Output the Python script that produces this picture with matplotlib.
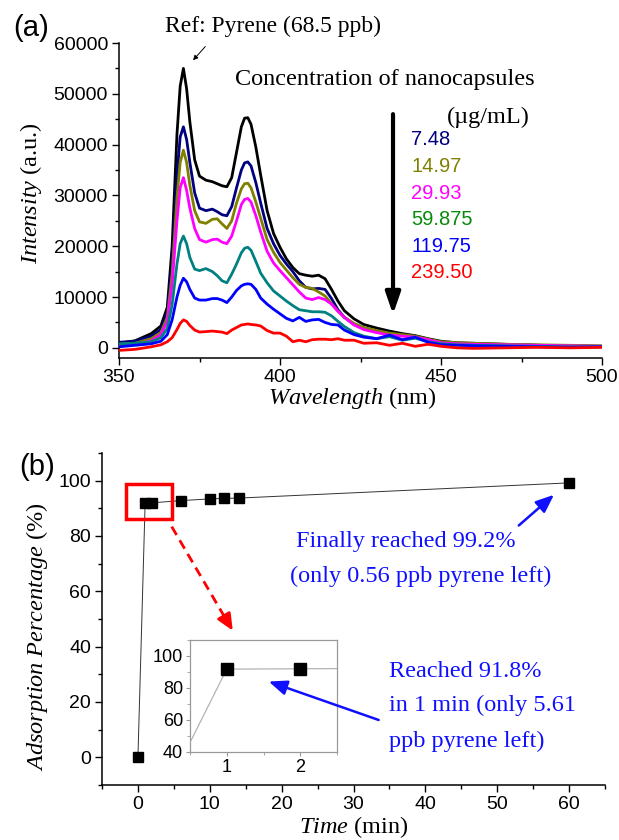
"""
Pyrene fluorescence quenching by nanocapsules (a) and adsorption kinetics (b).
Values read off the published figure.
"""

import matplotlib
matplotlib.use("Agg")
import matplotlib.pyplot as plt  # noqa: E402
from matplotlib.patches import Rectangle  # noqa: E402
from matplotlib.ticker import MultipleLocator  # noqa: E402

plt.rcParams["font.family"] = ["Liberation Sans", "DejaVu Sans"]
plt.rcParams["mathtext.fontset"] = "custom"
plt.rcParams["mathtext.rm"] = "Liberation Serif"
plt.rcParams["mathtext.it"] = "Liberation Serif:italic"

SERIF = ["Liberation Serif", "DejaVu Serif"]
BLUE = "#1010ff"

# --------------------------------------------------------------------------- #
# data, panel (a): emission spectra
# --------------------------------------------------------------------------- #
wavelength = [350, 355, 360, 363, 365, 366.5, 368, 369, 370, 371, 372, 373.5,
              375, 377, 379, 380.5, 382, 383.5, 385, 386.5, 388, 389, 390, 391,
              392.5, 394, 396, 398, 400, 402, 404, 406, 408, 410, 412, 414,
              416, 418, 420, 423, 426, 430, 434, 438, 442, 446, 450, 455, 460,
              470, 480, 490, 500]

i_ref = [900, 1400, 2800, 4300, 8000, 20000, 42000, 51500, 55000, 51000, 44500,
         37000, 33800, 33000, 32700, 32300, 31900, 31700, 33500, 38500, 43500,
         45200, 45300, 44000, 39500, 34000, 27000, 22500, 19800, 17500, 15800,
         14600, 14300, 14100, 14300, 13600, 11500, 9200, 7300, 5700, 4600, 3900,
         3300, 2800, 2400, 1800, 1300, 1000, 900, 700, 500, 400, 300]
i_748 = [1100, 1300, 2300, 3600, 7000, 17000, 34000, 41500, 43500, 41000, 36500,
         30500, 27500, 27000, 27300, 26800, 26200, 26000, 27800, 31500, 35000,
         36400, 36600, 35800, 32500, 28500, 23500, 20500, 18200, 16500, 15000,
         13200, 11900, 11600, 11700, 11500, 9700, 7500, 6000, 4600, 3900, 3300,
         2800, 2500, 2300, 1600, 1100, 900, 800, 600, 500, 300, 300]
i_1497 = [700, 900, 1800, 3000, 6000, 14500, 29500, 36500, 38900, 36500, 32000,
          27000, 24800, 24500, 25300, 25400, 24400, 23500, 25000, 28500, 31300,
          32300, 32400, 31500, 28700, 25500, 21300, 18800, 16800, 15300, 13800,
          12500, 11900, 11700, 11000, 10200, 8700, 7200, 6000, 4800, 4000, 3400,
          2900, 2600, 2300, 1700, 1200, 1000, 900, 700, 600, 500, 400]
i_2993 = [500, 700, 1400, 2600, 5200, 12500, 25000, 31500, 33500, 31000, 27500,
          23500, 21300, 20800, 21300, 21400, 20800, 20500, 22000, 25000, 28200,
          29200, 29400, 28700, 26000, 22800, 19000, 16700, 15200, 13800, 12400,
          11000, 9800, 9500, 9900, 9500, 8600, 7200, 6000, 4500, 3600, 3000,
          2500, 2300, 2100, 1600, 1000, 800, 700, 600, 500, 400, 300]
i_59875 = [800, 900, 1200, 2000, 3800, 8500, 16500, 20500, 22000, 20500, 17800,
           15500, 15200, 15600, 15000, 14200, 13200, 12800, 14500, 16500, 18700,
           19600, 19800, 19200, 17000, 14700, 12800, 11200, 10200, 9200, 8300,
           7500, 7300, 7100, 7100, 7000, 6300, 5200, 4200, 3000, 2300, 1800,
           2200, 1500, 1900, 1200, 800, 600, 500, 400, 300, 200, 200]
i_11975 = [200, 500, 800, 1300, 2600, 5500, 10000, 12300, 13700, 13000, 11500,
           9800, 9400, 9400, 9700, 9700, 9400, 8900, 10000, 11300, 12200, 12500,
           12600, 12500, 11500, 9800, 8600, 7600, 6700, 5800, 5300, 6000, 5200,
           5500, 5600, 5000, 4600, 4500, 3500, 2600, 2100, 1800, 2500, 1600,
           2100, 1100, 600, 500, 400, 300, 200, 100, 200]
i_2395 = [-500, -300, 200, 600, 1200, 2000, 3600, 4800, 5500, 5200, 4400, 3500,
          3100, 3200, 3300, 3200, 3100, 2800, 3500, 4000, 4500, 4600, 4700, 4600,
          4500, 4300, 3400, 2900, 2900, 2300, 1200, 1500, 1200, 1600, 1700, 1700,
          1600, 1800, 1500, 1500, 900, 1000, 500, 900, 300, 700, 300, 0, -100,
          0, 100, 0, 100]

conc_labels = ["7.48", "14.97", "29.93", "59.875", "119.75", "239.50"]
conc_colors = ["#000080", "#808000", "#ff00ff", "#0a8a0a", "#0000ff", "#ff0000"]
spectra = [i_748, i_1497, i_2993, i_59875, i_11975, i_2395]
line_colors = ["#000080", "#808000", "#ff00ff", "#008080", "#0000ff", "#ff0000"]

# --------------------------------------------------------------------------- #
# data, panel (b): adsorption vs time
# --------------------------------------------------------------------------- #
time_min = [0, 1, 2, 6, 10, 12, 14, 60]
adsorption = [0, 91.8, 92.0, 92.8, 93.4, 93.6, 93.7, 99.2]


def style_ax(ax):
    for s in ("top", "right"):
        ax.spines[s].set_visible(False)
    for s in ("left", "bottom"):
        ax.spines[s].set_linewidth(1.1)
    ax.tick_params(which="major", direction="out", length=5, width=1.0,
                   labelsize=14, pad=3)
    ax.tick_params(which="minor", direction="out", length=3, width=1.0)


W, H = 619, 840
fig = plt.figure(figsize=(W / 100, H / 100), dpi=100)


def fx(px):
    return px / W


def fy(py):
    return 1 - py / H


# ---- panel (a) ------------------------------------------------------------ #
ax_a = fig.add_axes([fx(119), fy(358), (602 - 119) / W, (358 - 43) / H])
ax_a.plot(wavelength, i_ref, color="black", lw=2.0, zorder=3)
for ys, c in zip(spectra, line_colors):
    ax_a.plot(wavelength, ys, color=c, lw=2.0, zorder=3)
ax_a.set_xlim(350, 500)
ax_a.set_ylim(-2000, 60000)
ax_a.xaxis.set_major_locator(MultipleLocator(50))
ax_a.xaxis.set_minor_locator(MultipleLocator(25))
ax_a.yaxis.set_major_locator(MultipleLocator(10000))
ax_a.yaxis.set_minor_locator(MultipleLocator(5000))
style_ax(ax_a)

ax_a.text(364.3, 63200, "Ref: Pyrene (68.5 ppb)", family=SERIF, fontsize=17,
          ha="left", va="center", clip_on=False)
ax_a.annotate("", xy=(373.0, 56600), xytext=(376.8, 59300),
              arrowprops=dict(arrowstyle="-|>", color="black", lw=0.7,
                              mutation_scale=7, shrinkA=0, shrinkB=0))
ax_a.text(386.0, 52800, "Concentration of nanocapsules", family=SERIF,
          fontsize=17.5, ha="left", va="center")
ax_a.text(451.7, 45400, "(\u00b5g/mL)", family=SERIF, fontsize=17.5,
          ha="left", va="center")
conc_y = [41070, 35760, 30460, 25170, 20010, 14760]
for lab, c, yy in zip(conc_labels, conc_colors, conc_y):
    ax_a.text(440.7, yy, lab, color=c, fontsize=14.5, ha="left", va="center")
ax_a.annotate("", xy=(435.1, 6600), xytext=(435.1, 46000),
              arrowprops=dict(arrowstyle="-|>,head_length=1.3,head_width=0.45",
                              color="black", lw=3, mutation_scale=10,
                              shrinkA=0, shrinkB=0))

fig.text(fx(31), fy(193), r"$\mathit{Intensity}$ (a.u.)", family=SERIF,
         rotation=90, fontsize=17.5, ha="center", va="center")
fig.text(fx(352), fy(398), r"$\mathit{Wavelength}$ (nm)", family=SERIF,
         fontsize=17.5, ha="center", va="center")
fig.text(fx(31), fy(28), "(a)", fontsize=21, ha="center", va="center")

# ---- panel (b) ------------------------------------------------------------ #
ax_b = fig.add_axes([fx(102), fy(785), (605 - 102) / W, (785 - 453) / H])
ax_b.plot(time_min, adsorption, color="#333333", lw=0.7, marker="s", ms=6.5,
          mfc="black", mec="black", zorder=3)
ax_b.set_xlim(-5, 65)
ax_b.set_ylim(-10, 110)
ax_b.xaxis.set_major_locator(MultipleLocator(10))
ax_b.xaxis.set_minor_locator(MultipleLocator(5))
ax_b.yaxis.set_major_locator(MultipleLocator(20))
ax_b.yaxis.set_minor_locator(MultipleLocator(10))
ax_b.set_yticks([0, 20, 40, 60, 80, 100])
style_ax(ax_b)

ax_b.add_patch(Rectangle((-1.6, 86.1), 6.3, 12.8, fill=False, ec="#ff0000",
                         lw=2.5, zorder=4, clip_on=False))
ax_b.plot([4.7, 12.0], [83.4, 51.0], color="#ff0000", lw=2, ls=(0, (3.5, 2.2)))
ax_b.annotate("", xy=(13.2, 45.8), xytext=(12.0, 51.0),
              arrowprops=dict(arrowstyle="-|>,head_length=1.0,head_width=0.45",
                              color="#ff0000", lw=2, mutation_scale=10,
                              shrinkA=0, shrinkB=0))
ax_b.annotate("", xy=(57.9, 94.9), xytext=(53.0, 83.8),
              arrowprops=dict(arrowstyle="-|>,head_length=1.1,head_width=0.45",
                              color=BLUE, lw=1.8, mutation_scale=10,
                              shrinkA=0, shrinkB=0))
ax_b.text(22.05, 78.0, "Finally reached 99.2%", family=SERIF, fontsize=17.5,
          color=BLUE, ha="left", va="center")
ax_b.text(21.2, 65.4, "(only 0.56 ppb pyrene left)", family=SERIF,
          fontsize=17.5, color=BLUE, ha="left", va="center")
ax_b.text(35.0, 31.0, "Reached 91.8%", family=SERIF, fontsize=17.5,
          color=BLUE, ha="left", va="center")
ax_b.text(35.0, 18.6, "in 1 min (only 5.61", family=SERIF, fontsize=17.5,
          color=BLUE, ha="left", va="center")
ax_b.text(35.0, 5.6, "ppb pyrene left)", family=SERIF, fontsize=17.5,
          color=BLUE, ha="left", va="center")

fig.text(fx(37), fy(637), r"$\mathit{Adsorption\ Percentage}$ (%)",
         family=SERIF, rotation=90, fontsize=17.5, ha="center", va="center")
fig.text(fx(354), fy(827), r"$\mathit{Time}$ (min)", family=SERIF,
         fontsize=17.5, ha="center", va="center")
fig.text(fx(37), fy(467), "(b)", fontsize=21, ha="center", va="center")

# ---- inset --------------------------------------------------------------- #
ax_in = fig.add_axes([fx(190), fy(752), (337 - 190) / W, (752 - 640) / H])
ax_in.plot(time_min, adsorption, color="#aaaaaa", lw=0.8, marker="s", ms=8.5,
           mfc="black", mec="black", zorder=3)
ax_in.set_xlim(0.5, 2.5)
ax_in.set_ylim(40, 110)
ax_in.set_xticks([1, 2])
ax_in.xaxis.set_minor_locator(MultipleLocator(0.5))
ax_in.set_yticks([40, 60, 80, 100])
ax_in.yaxis.set_minor_locator(MultipleLocator(10))
for s in ax_in.spines.values():
    s.set_color("#999999")
    s.set_linewidth(0.9)
ax_in.tick_params(which="both", direction="out", color="#999999",
                  labelsize=13, pad=2)
ax_in.tick_params(which="major", length=3)
ax_in.tick_params(which="minor", length=2)
ax_in.annotate("", xy=(18.2, 27.4), xycoords=ax_b.transData,
               xytext=(33.5, 13.5), textcoords=ax_b.transData,
               arrowprops=dict(arrowstyle="-|>,head_length=1.1,head_width=0.45",
                               color=BLUE, lw=1.8, mutation_scale=10,
                               shrinkA=0, shrinkB=0))

fig.savefig("out.png", dpi=100)
